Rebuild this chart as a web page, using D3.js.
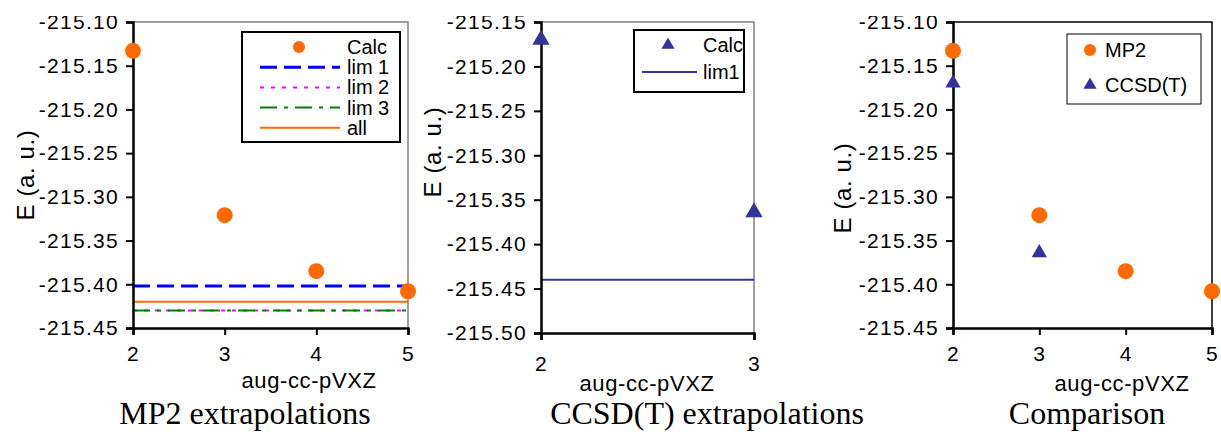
<!DOCTYPE html>
<html>
<head>
<meta charset="utf-8">
<script src="https://cdn.jsdelivr.net/npm/d3@7"></script>
<style>
  body { margin: 0; background: #fff; }
  svg { display: block; font-family: "Liberation Sans", Arial, sans-serif; }
</style>
</head>
<body>
<svg id="chart" width="1221" height="432"></svg>
<script>
// basis set cardinal numbers
var basisMp2 = [2, 3, 4, 5];
var basisCcsdt = [2, 3];

// energies (a.u.)
var mp2Calc = [-215.133, -215.321, -215.385, -215.408];
var ccsdtCalc = [-215.170, -215.364];

// extrapolated limits
var mp2LimNames = ["lim 1", "lim 2", "lim 3", "all"];
var mp2LimValues = [-215.402, -215.430, -215.430, -215.420];
var ccsdtLimNames = ["lim1"];
var ccsdtLimValues = [-215.440];

// axis ticks
var ticksA = [-215.10, -215.15, -215.20, -215.25, -215.30, -215.35, -215.40, -215.45];
var ticksB = [-215.15, -215.20, -215.25, -215.30, -215.35, -215.40, -215.45, -215.50];

var orange = "#ff6a00", navy = "#333399";
var limStyle = {
  "lim 1": {color: "#0000ff", width: 3, dash: "17,7"},
  "lim 2": {color: "#ff00ff", width: 2, dash: "4,7"},
  "lim 3": {color: "#008000", width: 2, dash: "17,7,4,7"},
  "all":   {color: orange, width: 2, dash: null},
  "lim1":  {color: navy, width: 2, dash: null}
};

var svg = d3.select("#chart");

function drawPanel(p) {
  var x = d3.scaleLinear().domain(p.xDomain).range([p.left, p.right]);
  var y = d3.scaleLinear().domain([p.yTicks[0], p.yTicks[p.yTicks.length - 1]]).range([p.top, p.bottom]);
  var g = svg.append("g");

  // top/right frame
  g.append("path")
    .attr("d", "M" + x(p.xDomain[0]) + "," + y.range()[0] + "H" + x(p.xDomain[1]) + "V" + y.range()[1])
    .attr("fill", "none").attr("stroke", p.frame).attr("stroke-width", 1.5);

  // limit lines
  (p.lims || []).forEach(function(l) {
    var s = limStyle[l.name];
    g.append("line")
      .attr("x1", x(p.xDomain[0])).attr("x2", x(p.xDomain[1]))
      .attr("y1", y(l.value)).attr("y2", y(l.value))
      .attr("stroke", s.color).attr("stroke-width", s.width)
      .attr("stroke-dasharray", s.dash);
  });

  var yAxis = g.append("g")
    .attr("transform", "translate(" + p.left + ",0)")
    .call(d3.axisLeft(y).tickValues(p.yTicks).tickSize(7).tickPadding(7).tickFormat(function(d) { return d.toFixed(2); }));
  var xAxis = g.append("g")
    .attr("transform", "translate(0," + p.bottom + ")")
    .call(d3.axisBottom(x).tickValues(p.xTicks).tickSize(7).tickPadding(p.xPad).tickFormat(d3.format("d")));
  [yAxis, xAxis].forEach(function(a) {
    a.select(".domain").attr("stroke-width", 2.5);
    a.selectAll(".tick line").attr("stroke-width", 2);
    a.selectAll("text").attr("font-size", 21).attr("letter-spacing", 1.3).attr("fill", "#000");
  });

  // series
  p.series.forEach(function(s) {
    var pts = s.xs.map(function(v, i) { return [v, s.ys[i]]; });
    if (s.shape === "circle") {
      g.selectAll(null).data(pts).enter().append("circle")
        .attr("cx", function(d) { return x(d[0]); })
        .attr("cy", function(d) { return y(d[1]); })
        .attr("r", s.size).attr("fill", orange);
    } else {
      g.selectAll(null).data(pts).enter().append("path")
        .attr("d", d3.symbol(d3.symbolTriangle).size(s.size))
        .attr("transform", function(d) { return "translate(" + x(d[0]) + "," + y(d[1]) + ")"; })
        .attr("fill", navy);
    }
  });

  // axis titles
  g.append("text")
    .attr("transform", "translate(" + p.yLabel[0] + "," + p.yLabel[1] + ") rotate(-90)")
    .attr("text-anchor", "middle").attr("dy", "0.35em")
    .attr("font-size", 24).attr("letter-spacing", 0.6).text("E (a. u.)");
  g.append("text")
    .attr("x", p.xLabel[0]).attr("y", p.xLabel[1])
    .attr("text-anchor", "middle").attr("dy", "0.35em")
    .attr("font-size", 22).attr("letter-spacing", 0.6).text("aug-cc-pVXZ");
  svg.append("text")
    .attr("x", p.title[0]).attr("y", 424)
    .attr("text-anchor", "middle")
    .attr("font-family", "'Liberation Serif', 'Times New Roman', serif")
    .attr("font-size", 32).text(p.titleText);

  // legend
  var L = p.legend;
  var lg = g.append("g");
  lg.append("rect")
    .attr("x", L.x).attr("y", L.y).attr("width", L.w).attr("height", L.h)
    .attr("fill", "#fff").attr("stroke", "#000").attr("stroke-width", L.border);
  L.items.forEach(function(it, i) {
    var cy = L.firstY + i * L.step;
    if (it.type === "circle") {
      lg.append("circle").attr("cx", L.markX).attr("cy", cy).attr("r", it.size).attr("fill", orange);
    } else if (it.type === "triangle") {
      lg.append("path").attr("d", d3.symbol(d3.symbolTriangle).size(it.size))
        .attr("transform", "translate(" + L.markX + "," + cy + ")").attr("fill", navy);
    } else {
      var s = limStyle[it.label];
      lg.append("line").attr("x1", L.lineX[0]).attr("x2", L.lineX[1])
        .attr("y1", cy).attr("y2", cy)
        .attr("stroke", s.color).attr("stroke-width", s.width).attr("stroke-dasharray", s.dash);
    }
    lg.append("text").attr("x", L.textX).attr("y", cy).attr("dy", "0.35em")
      .attr("font-size", 20).text(it.label);
  });
}

drawPanel({
  xDomain: [2, 5], xTicks: basisMp2, yTicks: ticksA,
  left: 133, right: 408, top: 22, bottom: 328, xPad: 11, frame: "#808080",
  lims: mp2LimNames.map(function(n, i) { return {name: n, value: mp2LimValues[i]}; }),
  series: [{xs: basisMp2, ys: mp2Calc, shape: "circle", size: 8}],
  yLabel: [26, 175], xLabel: [309, 380], title: [245], titleText: "MP2 extrapolations",
  legend: {x: 242, y: 32, w: 158, h: 110, border: 2, firstY: 47, step: 20.2, markX: 299, lineX: [260, 340], textX: 347,
    items: [{label: "Calc", type: "circle", size: 6}].concat(mp2LimNames.map(function(n) { return {label: n, type: "line"}; }))}
});

drawPanel({
  xDomain: [2, 3], xTicks: basisCcsdt, yTicks: ticksB,
  left: 541, right: 754, top: 22, bottom: 333, xPad: 16, frame: "#808080",
  lims: ccsdtLimNames.map(function(n, i) { return {name: n, value: ccsdtLimValues[i]}; }),
  series: [{xs: basisCcsdt, ys: ccsdtCalc, shape: "triangle", size: 130}],
  yLabel: [433, 152], xLabel: [647, 383], title: [707], titleText: "CCSD(T) extrapolations",
  legend: {x: 634, y: 30, w: 110, h: 62, border: 2, firstY: 45, step: 27, markX: 668, lineX: [642, 697], textX: 703,
    items: [{label: "Calc", type: "triangle", size: 75}].concat(ccsdtLimNames.map(function(n) { return {label: n, type: "line"}; }))}
});

drawPanel({
  xDomain: [2, 5], xTicks: basisMp2, yTicks: ticksA,
  left: 953, right: 1212, top: 22, bottom: 328, xPad: 11, frame: "#000",
  lims: [],
  series: [{xs: basisMp2, ys: mp2Calc, shape: "circle", size: 8},
           {xs: basisCcsdt, ys: ccsdtCalc, shape: "triangle", size: 100}],
  yLabel: [843, 188], xLabel: [1122, 383], title: [1087], titleText: "Comparison",
  legend: {x: 1067, y: 34, w: 134, h: 70, border: 1, firstY: 50, step: 35, markX: 1090, lineX: [0, 0], textX: 1105,
    items: [{label: "MP2", type: "circle", size: 6}, {label: "CCSD(T)", type: "triangle", size: 75}]}
});

// the source picture is cropped just above the top tick labels
svg.append("rect").attr("x", 0).attr("y", 0).attr("width", 1221).attr("height", 16).attr("fill", "#fff");
</script>
</body>
</html>
